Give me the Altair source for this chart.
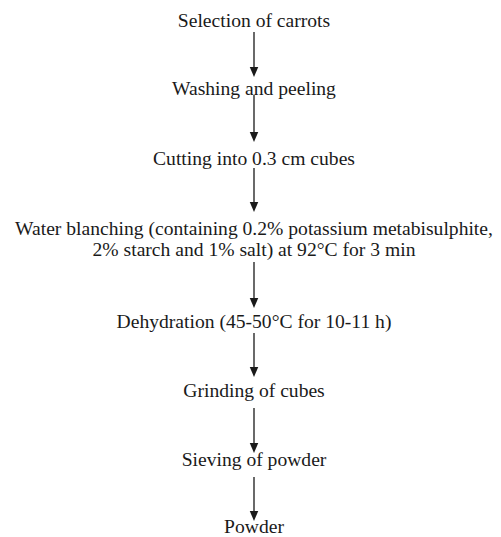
import altair as alt
import pandas as pd

# Flowchart text lines (baseline positions in page pixels)
line_text = [
    "Selection of carrots",
    "Washing and peeling",
    "Cutting into 0.3 cm cubes",
    "Water blanching (containing 0.2% potassium metabisulphite,",
    "2% starch and 1% salt) at 92\u00b0C for 3 min",
    "Dehydration (45-50\u00b0C for 10-11 h)",
    "Grinding of cubes",
    "Sieving of powder",
    "Powder",
]
line_y = [27, 95, 165, 234.5, 256, 328, 396.5, 466, 533]

# Arrows between steps (start and tip, page pixels)
arrow_start = [32, 95, 168, 262, 333, 408, 477]
arrow_tip = [77, 142, 212, 308, 377, 453, 521]

center_x = 254

text_df = pd.DataFrame({"text": line_text, "y": line_y, "x": center_x})
arrow_df = pd.DataFrame({"y1": arrow_start, "y2": arrow_tip, "x": center_x})

xs = alt.Scale(domain=[8, 493])
ys = alt.Scale(domain=[8, 537], reverse=True)

text = alt.Chart(text_df).mark_text(
    font="Liberation Serif, Times New Roman, Times, serif", fontSize=19.6,
    baseline="alphabetic", align="center", color="#1a1a1a"
).encode(
    x=alt.X("x:Q", scale=xs, axis=None),
    y=alt.Y("y:Q", scale=ys, axis=None),
    text="text:N",
)

shaft = alt.Chart(arrow_df).transform_calculate(
    yend="datum.y2 - 6"
).mark_rule(color="#1a1a1a", strokeWidth=1.3).encode(
    x=alt.X("x:Q", scale=xs, axis=None),
    y=alt.Y("y1:Q", scale=ys, axis=None),
    y2="yend:Q",
)

head = alt.Chart(arrow_df).transform_calculate(
    yc="datum.y2 - 5"
).mark_point(
    shape="M-0.85,-1L0.85,-1L0,1Z", filled=True, size=100,
    color="#1a1a1a", opacity=1, strokeWidth=0
).encode(
    x=alt.X("x:Q", scale=xs, axis=None),
    y=alt.Y("yc:Q", scale=ys, axis=None),
)

chart = alt.layer(shaft, head, text).properties(
    width=485, height=529, padding=0,
    autosize=alt.AutoSizeParams(type="none"),
).configure_view(strokeWidth=0)

chart.save("out.html", embed_options={"renderer": "svg", "actions": False})
